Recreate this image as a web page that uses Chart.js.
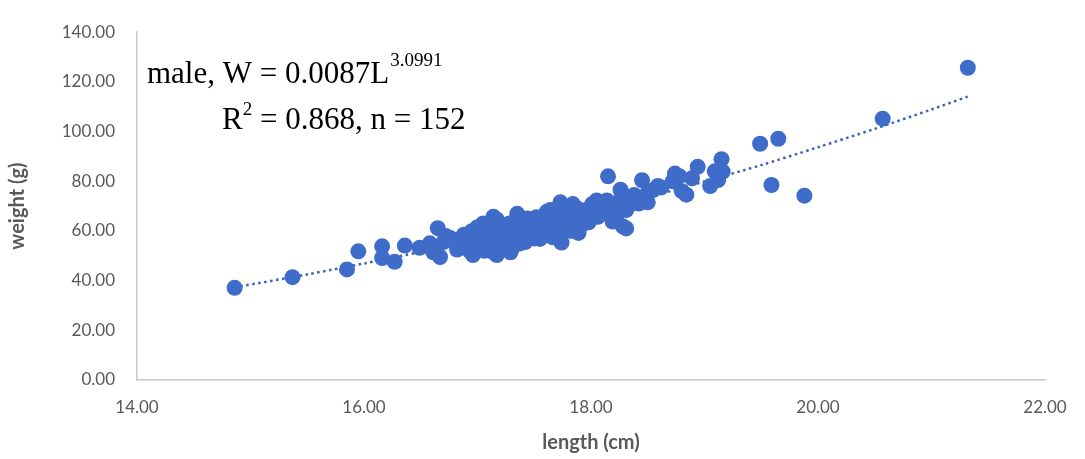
<!DOCTYPE html>
<html>
<head>
<meta charset="utf-8">
<script src="https://cdn.jsdelivr.net/npm/chart.js@4"></script>
<style>
  html, body { margin: 0; padding: 0; background: #fff; }
  #wrap { width: 1085px; height: 459px; }
</style>
</head>
<body>
<div id="wrap"><canvas id="lwChart" width="1085" height="459"></canvas></div>
<script>
// length (cm) and weight (g) of each male fish
const lengths = [
  14.86, 15.37, 15.85, 15.95, 16.16, 16.16, 16.27, 16.36, 16.49, 16.65,
  16.61, 16.67, 16.76, 16.86, 16.95, 16.96, 17.05, 17.05, 17.08, 17.08,
  17.14, 17.14, 17.17, 17.17, 17.26, 17.26, 17.29, 17.31, 17.35, 17.37,
  17.42, 17.46, 17.52, 17.55, 17.58, 17.61, 17.64, 17.70, 17.73, 17.74,
  17.84, 17.88, 17.89, 17.90, 17.90, 17.96, 18.01, 18.05, 18.06, 18.14,
  18.15, 18.19, 18.22, 18.26, 18.28, 18.31, 18.31, 18.36, 18.42, 18.45,
  18.50, 18.50, 18.59, 18.72, 18.74, 18.84, 18.89, 18.94, 19.05, 19.09,
  19.16, 19.15, 19.49, 19.59, 19.65, 19.88, 20.57, 21.32,
  16.70, 16.72, 16.80, 16.82, 16.88, 16.90, 16.93, 16.98, 17.00, 17.00,
  17.02, 17.04, 17.06, 17.10, 17.10, 17.12, 17.12, 17.15, 17.18, 17.18,
  17.20, 17.20, 17.22, 17.24, 17.28, 17.30, 17.32, 17.34, 17.36, 17.38,
  17.40, 17.42, 17.44, 17.46, 17.48, 17.50, 17.50, 17.52, 17.54, 17.56,
  17.58, 17.60, 17.62, 17.64, 17.66, 17.68, 17.70, 17.72, 17.75, 17.78,
  17.80, 17.82, 17.85, 17.88, 17.92, 17.95, 17.98, 18.00, 18.03, 18.08,
  18.10, 18.12, 18.17, 18.20, 18.24, 18.27, 18.33, 18.38, 18.55, 18.62,
  18.78, 18.80, 19.12, 16.58
];
const weights = [
  37.1, 41.4, 44.5, 51.8, 53.8, 49.1, 47.6, 54.1, 53.2, 61.1,
  51.4, 49.5, 57.2, 54.1, 59.9, 50.3, 63.0, 60.7, 53.0, 58.0,
  65.7, 51.4, 64.6, 50.3, 56.8, 60.7, 51.4, 53.5, 66.9, 54.9,
  63.0, 61.9, 62.6, 56.8, 64.6, 67.7, 68.4, 61.9, 71.5, 55.3,
  70.8, 60.7, 59.2, 65.7, 64.6, 68.4, 70.8, 72.3, 65.7, 72.3,
  82.0, 63.8, 65.5, 76.6, 61.9, 61.0, 68.4, 72.3, 71.0, 80.4,
  75.4, 71.5, 78.1, 80.0, 83.1, 74.6, 81.2, 85.8, 78.1, 84.0,
  83.9, 88.9, 95.1, 78.5, 97.1, 74.2, 105.2, 125.7,
  55.5, 58.0, 56.0, 52.5, 58.5, 55.0, 52.0, 56.5, 54.0, 61.5,
  57.5, 55.5, 52.0, 56.0, 59.5, 62.0, 54.5, 57.5, 60.0, 55.0,
  62.5, 52.5, 58.5, 54.0, 63.0, 58.0, 55.5, 61.0, 64.0, 57.5,
  59.5, 55.5, 65.0, 58.5, 60.5, 63.5, 57.0, 65.5, 59.0, 61.0,
  58.0, 63.0, 60.0, 65.0, 57.5, 63.0, 66.5, 59.5, 64.0, 62.0,
  67.0, 60.0, 65.5, 69.0, 62.5, 66.5, 63.5, 68.0, 66.0, 69.5,
  67.0, 70.0, 68.5, 71.0, 69.0, 73.5, 70.0, 74.5, 76.5, 77.5,
  82.0, 76.0, 80.5, 55.0
];

// power trendline W = 0.0087 L^3.0991, points taken along the dotted curve
const trendL = [14.86, 15.5, 16.0, 16.5, 17.0, 17.5, 18.0, 18.5, 19.0, 19.5, 20.0, 20.5, 21.0, 21.32];
const trendW = [37.3, 42.5, 46.9, 51.6, 56.6, 61.9, 67.5, 73.5, 79.9, 86.5, 93.7, 101.1, 108.9, 114.1];

const xTicks = [14, 16, 18, 20, 22];
const yTicks = [0, 20, 40, 60, 80, 100, 120, 140];

const blue = '#3f6cc8';
const grey = '#595959';

const points = lengths.map((l, i) => ({ x: l, y: weights[i] }));
const trend = trendL.map((l, i) => ({ x: l, y: trendW[i] }));

// equation text in the top left corner
const equationText = {
  id: 'equationText',
  afterDraw(chart) {
    const ctx = chart.ctx;
    const big = '31px "Liberation Serif", serif';
    const small = '19px "Liberation Serif", serif';
    ctx.save();
    ctx.fillStyle = '#000';
    ctx.textBaseline = 'alphabetic';
    ctx.textAlign = 'left';
    ctx.font = big;
    let s = 'male, W = 0.0087L';
    ctx.fillText(s, 147, 83);
    let w = ctx.measureText(s).width;
    ctx.font = small;
    ctx.fillText('3.0991', 147 + w + 1, 66);

    ctx.font = big;
    ctx.fillText('R', 222, 129);
    w = ctx.measureText('R').width;
    ctx.font = small;
    ctx.fillText('2', 222 + w, 115);
    const w2 = ctx.measureText('2').width;
    ctx.font = big;
    ctx.fillText(' = 0.868, n = 152', 222 + w + w2, 129);
    ctx.restore();
  }
};

new Chart(document.getElementById('lwChart'), {
  type: 'scatter',
  data: {
    datasets: [
      {
        label: 'male',
        data: points,
        backgroundColor: blue,
        borderColor: blue,
        pointRadius: 8,
        pointHoverRadius: 8,
        borderWidth: 0
      },
      {
        label: 'trend',
        data: trend,
        showLine: true,
        borderColor: '#3a62b8',
        borderWidth: 2.5,
        borderDash: [2.5, 3.5],
        pointRadius: 0,
        tension: 0.3,
        fill: false
      }
    ]
  },
  options: {
    responsive: false,
    animation: false,
    events: [],
    layout: { padding: { top: 18, right: 40, left: 0, bottom: 0 } },
    plugins: {
      legend: { display: false },
      tooltip: { enabled: false }
    },
    scales: {
      x: {
        type: 'linear',
        min: 14,
        max: 22,
        afterBuildTicks: s => { s.ticks = xTicks.map(v => ({ value: v })); },
        afterFit: s => { s.height = 79; },
        grid: { display: false, drawTicks: false },
        border: { display: true, color: '#c8c8c8', width: 1.5 },
        ticks: {
          padding: 17,
          color: grey,
          font: { family: 'Lato', size: 17 },
          callback: v => v.toFixed(2)
        },
        title: {
          display: true,
          text: 'length (cm)',
          color: grey,
          font: { family: 'Lato', size: 20, weight: 'bold' },
          padding: { top: 2, bottom: 4 }
        }
      },
      y: {
        type: 'linear',
        min: 0,
        max: 140,
        afterBuildTicks: s => { s.ticks = yTicks.map(v => ({ value: v })); },
        afterFit: s => { s.width = 137; },
        grid: { display: false, drawTicks: false },
        border: { display: true, color: '#c8c8c8', width: 1.5 },
        ticks: {
          padding: 22,
          color: grey,
          font: { family: 'Lato', size: 17 },
          callback: v => v.toFixed(2)
        },
        title: {
          display: true,
          text: 'weight (g)',
          color: grey,
          font: { family: 'Lato', size: 20, weight: 'bold' },
          padding: { top: 6, bottom: 4 }
        }
      }
    }
  },
  plugins: [equationText]
});
</script>
</body>
</html>
